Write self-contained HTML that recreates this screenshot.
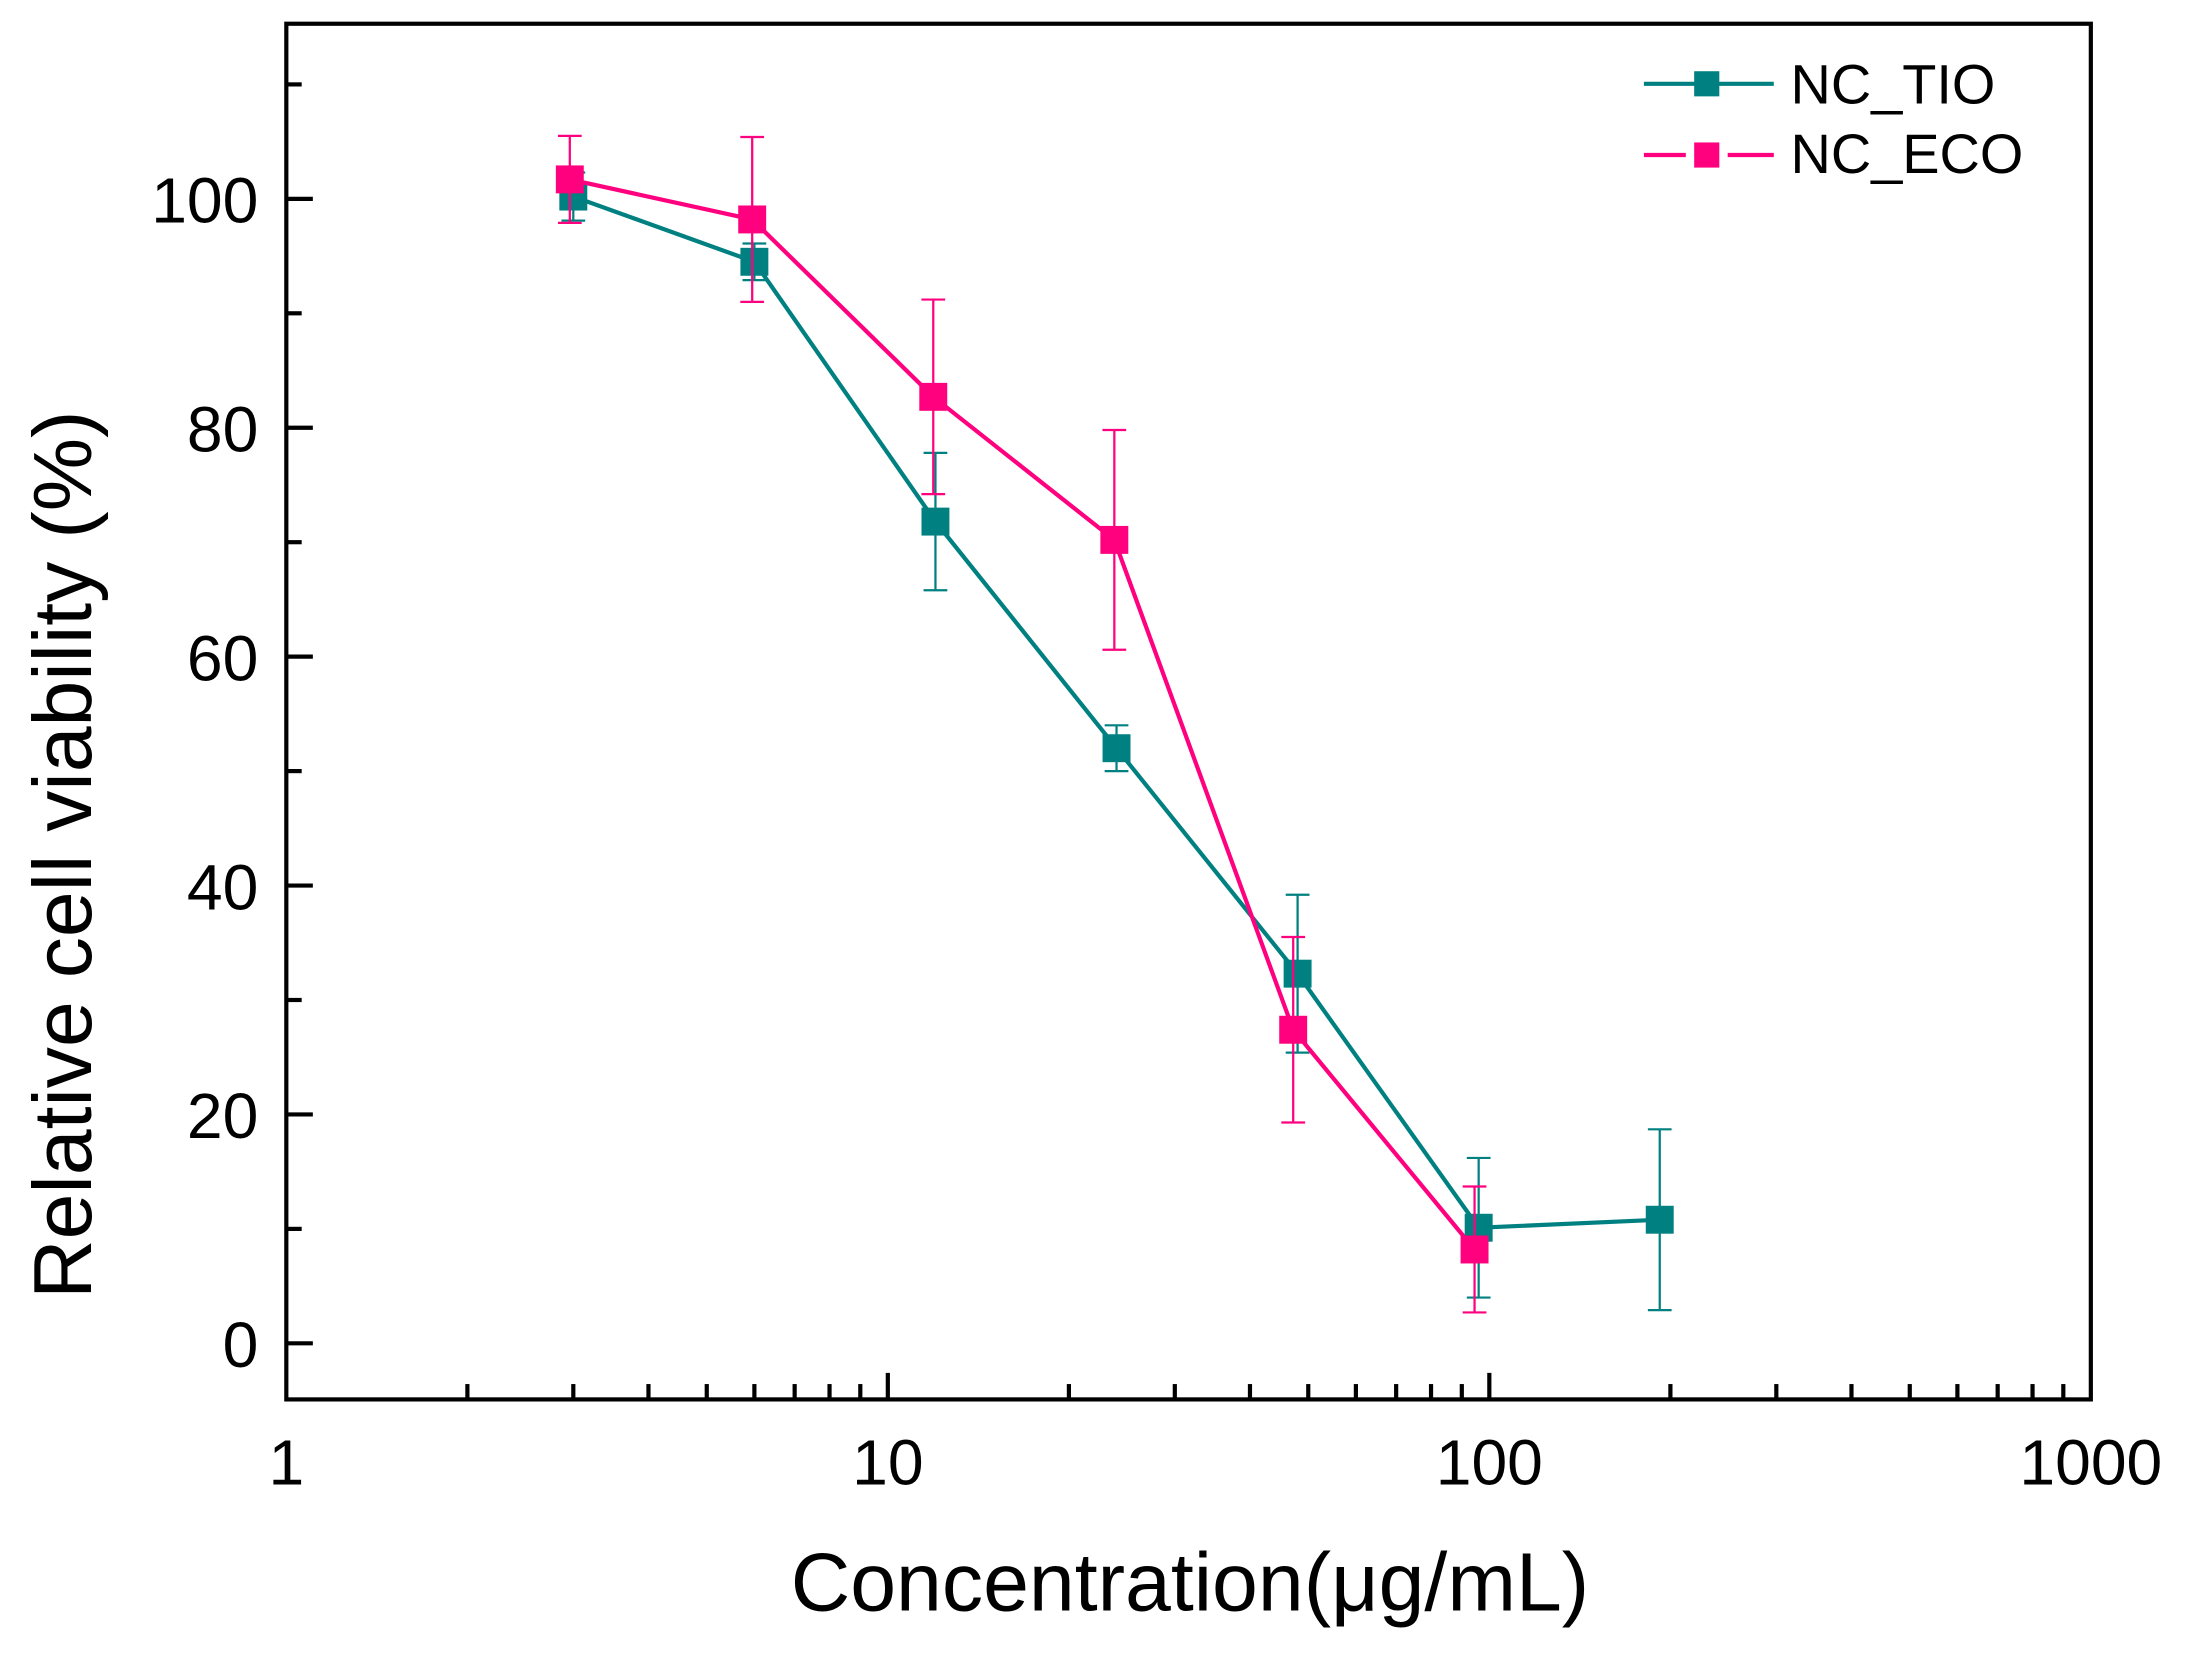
<!DOCTYPE html>
<html><head><meta charset="utf-8">
<style>
html,body{margin:0;padding:0;background:#fff;}
svg{display:block;}
text{font-family:"Liberation Sans",Arial,sans-serif;fill:#000;}
</style></head>
<body>
<svg id="chart" width="2190" height="1655" viewBox="0 0 1568 1185" preserveAspectRatio="none" xmlns="http://www.w3.org/2000/svg">
<g id="axes"></g>
<g id="series"></g>
<text transform="translate(65,612) rotate(-90)" text-anchor="middle" font-size="59">Relative cell viability (%)</text>
<text x="852" y="1153" text-anchor="middle" font-size="59">Concentration(μg/mL)</text>
<g>
 <g>
  <line x1="1177" y1="60" x2="1270" y2="60" stroke="#008080" stroke-width="3"/>
  <rect x="1213" y="51" width="18" height="18" fill="#008080"/>
  <text x="1282" y="74" font-size="40">NC_TIO</text>
 </g>
 <g>
  <line x1="1177" y1="111" x2="1207" y2="111" stroke="#ff007f" stroke-width="3"/>
  <line x1="1237" y1="111" x2="1270" y2="111" stroke="#ff007f" stroke-width="3"/>
  <rect x="1213" y="102" width="18" height="18" fill="#ff007f"/>
  <text x="1282" y="124" font-size="40">NC_ECO</text>
 </g>
</g>
</svg>
<script>
const concentrations = [3, 6, 12, 24, 48, 96, 192];
const tioValues = [100.2, 94.5, 71.8, 52.0, 32.3, 10.1, 10.8];
const tioErrors = [2.1, 1.6, 6.0, 2.0, 6.9, 6.1, 7.9];
const ecoConcentrations = [2.96, 5.95, 11.9, 23.8, 47.2, 94.5];
const ecoValues = [101.7, 98.2, 82.7, 70.2, 27.4, 8.2];
const ecoErrors = [3.8, 7.2, 8.5, 9.6, 8.1, 5.5];
const yTicks = [0, 20, 40, 60, 80, 100];
const xTickLabels = ["1", "10", "100", "1000"];

const L=205,R=1497,T=17,B=1002;
const X0=0,X1=3;
const Y0=-4.9,Y1=115.3;
function sx(v){return L+(Math.log10(v)-X0)/(X1-X0)*(R-L);}
function sy(v){return B-(v-Y0)/(Y1-Y0)*(B-T);}
const NS="http://www.w3.org/2000/svg";
function mk(tag,attrs,parent){const e=document.createElementNS(NS,tag);for(const k in attrs)e.setAttribute(k,attrs[k]);parent.appendChild(e);return e;}
const axes=document.getElementById('axes');
const frame=mk('rect',{x:L,y:T,width:R-L,height:B-T,fill:'none',stroke:'#000','stroke-width':3},axes);


for(let v=0;v<=110;v+=10){
  const major=v%20===0;
  const t=mk('line',{x1:L,x2:L+(major?19:11),y1:sy(v),y2:sy(v),stroke:'#000','stroke-width':3},axes);
  
  
}
yTicks.forEach(v=>{
  const t=mk('text',{x:L-20,y:sy(v)+17,'text-anchor':'end','font-size':46},axes);
  t.textContent=String(v);
  
  
});
for(let d=0;d<3;d++){
  for(let m=1;m<=9;m++){
    const v=m*Math.pow(10,d);
    if(m===1&&d===0)continue;
    const major=m===1;
    const t=mk('line',{x1:sx(v),x2:sx(v),y1:B,y2:B-(major?19:11),stroke:'#000','stroke-width':3},axes);
    
    
  }
}
xTickLabels.forEach(s=>{
  const t=mk('text',{x:sx(Number(s)),y:B+61,'text-anchor':'middle','font-size':46},axes);
  t.textContent=s;
  
  
});
const sg=document.getElementById('series');
function drawSeries(xs,ys,es,color,name){
  const g=mk('g',{},sg);
  
  
  xs.forEach((x,i)=>{
    const cx=sx(x),top=sy(ys[i]+es[i]),bot=sy(ys[i]-es[i]);
    const eb=mk('path',{d:`M${cx},${top}V${bot}M${cx-8.5},${top}H${cx+8.5}M${cx-8.5},${bot}H${cx+8.5}`,stroke:color,'stroke-width':1.6,fill:'none'},g);
    
    
  });
  const pts=xs.map((x,i)=>sx(x)+','+sy(ys[i])).join(' ');
  const pl=mk('polyline',{points:pts,fill:'none',stroke:color,'stroke-width':3},g);
  
  
  xs.forEach((x,i)=>{
    const r=mk('rect',{x:sx(x)-10,y:sy(ys[i])-10,width:20,height:20,fill:color},g);
    
    
  });
}
drawSeries(concentrations,tioValues,tioErrors,'#008080','nc-tio');
drawSeries(ecoConcentrations,ecoValues,ecoErrors,'#ff007f','nc-eco');
</script>
</body></html>
